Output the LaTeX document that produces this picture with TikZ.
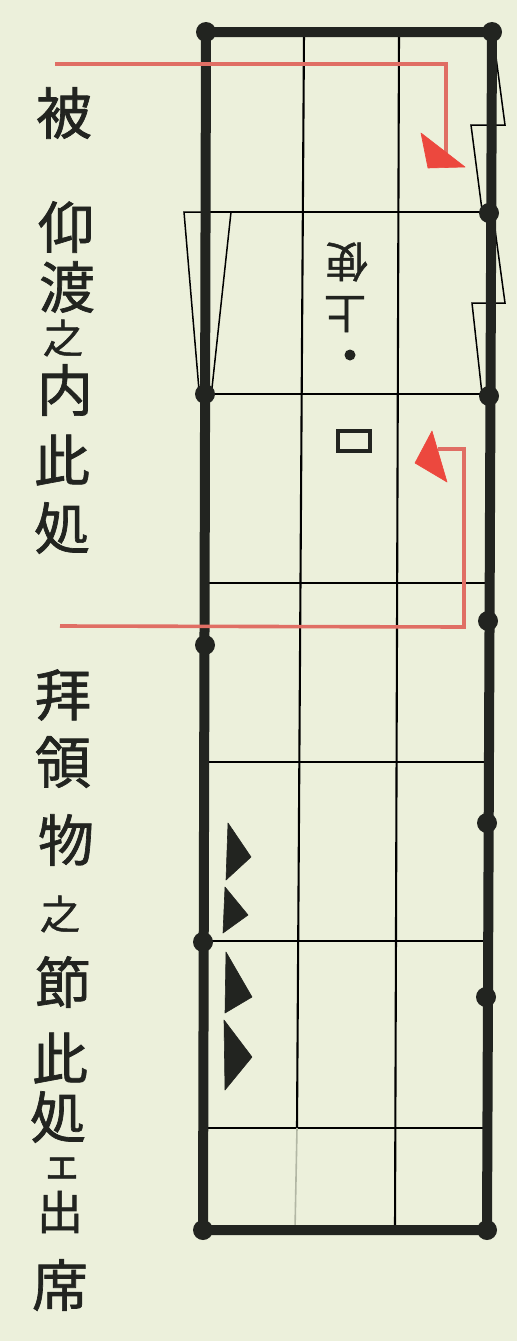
\documentclass[tikz,border=0pt]{standalone}
\usepackage{fontspec}
\newfontfamily\cjk[FakeBold=1.2]{Noto Sans CJK JP}
\definecolor{paper}{RGB}{236,240,219}
\definecolor{ink}{RGB}{34,36,32}
\definecolor{thin}{RGB}{72,76,62}
\definecolor{redline}{RGB}{224,110,100}
\definecolor{redfill}{RGB}{236,72,62}
\tikzset{
  wall/.style={ink, line width=10pt, line cap=round, line join=round},
  gridline/.style={thin, line width=2.1pt},
  faint/.style={thin!35!paper, line width=1.6pt},
  doorline/.style={thin, line width=1.5pt, line join=miter},
  post/.style={circle, fill=ink, inner sep=0pt, minimum size=20pt},
  redpath/.style={redline, line width=3.6pt, line join=miter},
  redtip/.style={fill=redfill, draw=redfill, line width=0.6pt, line join=round},
  blacktip/.style={fill=ink, draw=ink, line width=0.6pt, line join=round},
  bigch/.style={inner sep=0pt, font=\cjk\fontsize{56}{56}\selectfont, text=ink},
  midbig/.style={inner sep=0pt, font=\cjk\fontsize{46}{46}\selectfont, text=ink},
  smallch/.style={inner sep=0pt, font=\cjk\fontsize{40}{40}\selectfont, text=ink},
  midch/.style={inner sep=0pt, font=\cjk\fontsize{42}{42}\selectfont, text=ink, rotate=180},
}
\begin{document}
\begin{tikzpicture}[x=1pt, y=-1pt]
\fill[paper] (0,0) rectangle (517,1341);
\useasboundingbox (0,0) rectangle (517,1341);

% corners and wall points
\coordinate (TL) at (206,32);
\coordinate (TR) at (492,32);
\coordinate (BL) at (203,1230);
\coordinate (BR) at (487,1230);

% thin grid: horizontals
\foreach \y/\n in {212/h1,394/h2,583/h3,762/h4,941/h5,1128/h6}{
  \coordinate (\n L) at (207,\y);
  \coordinate (\n R) at (488,\y);
}
\draw[gridline] (h1L) -- (h1R);
\draw[gridline] (h2L) -- (h2R);
\draw[gridline] (h3L) -- (h3R);
\draw[gridline] (h4L) -- (h4R);
\draw[gridline] (h5L) -- (h5R);
\draw[gridline] (h6L) -- (h6R);
% thin grid: verticals
\coordinate (v1T) at (304,32);
\coordinate (v1M) at (297,1128);
\coordinate (v1B) at (295,1230);
\coordinate (v2T) at (399,32);
\coordinate (v2B) at (395,1230);
\draw[gridline] (v1T) -- (v1M);
\draw[faint] (v1M) -- (v1B);
\draw[gridline] (v2T) -- (v2B);

% left door leaf (tapered)
\coordinate (ldA) at (184,212);
\coordinate (ldB) at (231,212);
\coordinate (ldC) at (199,390);
\coordinate (ldD) at (212,388);
\draw[doorline] (ldC) -- (ldA) -- (ldB) -- (ldD);

% right door leaves
\coordinate (rdA1) at (494,42);
\coordinate (rdA2) at (505,125);
\coordinate (rdA3) at (471,125);
\coordinate (rdA4) at (482,210);
\draw[doorline] (rdA1) -- (rdA2) -- (rdA3) -- (rdA4);
\coordinate (rdB1) at (494,222);
\coordinate (rdB2) at (505,303);
\coordinate (rdB3) at (472,303);
\coordinate (rdB4) at (482,394);
\draw[doorline] (rdB1) -- (rdB2) -- (rdB3) -- (rdB4);

% outer frame
\draw[wall] (TL) -- (TR) -- (BR) -- (BL) -- cycle;

% posts
\node[post] (p1) at (TL) {};
\node[post] (p2) at (TR) {};
\node[post] (p3) at (489,213) {};
\node[post] (p4) at (205,394) {};
\node[post] (p5) at (489,396) {};
\node[post] (p6) at (488,621) {};
\node[post] (p7) at (205,645) {};
\node[post] (p8) at (487,823) {};
\node[post] (p9) at (203,942) {};
\node[post] (p10) at (486,997) {};
\node[post] (p11) at (BL) {};
\node[post] (p12) at (BR) {};

% red route 1
\coordinate (r1s) at (55,64);
\coordinate (r1c) at (446,64);
\coordinate (r1e) at (446,156);
\draw[redpath] (r1s) -- (r1c) -- (r1e);
\filldraw[redtip] (421,133) -- (428,168) -- (465,167) -- cycle;

% red route 2
\coordinate (r2s) at (60,626);
\coordinate (r2c) at (464,627);
\coordinate (r2d) at (464,449);
\coordinate (r2e) at (438,449);
\draw[redpath] (r2s) -- (r2c) -- (r2d) -- (r2e);
\filldraw[redtip] (432,431) -- (415,463) -- (447,482) -- cycle;

% black triangles
\filldraw[blacktip] (228,823) -- (251,857) -- (226,880) -- cycle;
\filldraw[blacktip] (225,887) -- (248,915) -- (223,933) -- cycle;
\filldraw[blacktip] (226,952) -- (252,997) -- (225,1013) -- cycle;
\filldraw[blacktip] (224,1020) -- (252,1057) -- (225,1090) -- cycle;

% upside-down label, dot and square
\node[midch] (m1) at (347,262) {使};
\node[midch] (m2) at (345,314) {上};
\node[circle, fill=ink, inner sep=0pt, minimum size=11pt] (mdot) at (350,355) {};
\node[draw=ink, line width=3.5pt, inner sep=0pt, minimum width=32pt, minimum height=20pt] (sq) at (354,441) {};

% left text
\node[bigch] (c1) at (64,113) {被};
\node[bigch] (c2) at (66,227) {仰};
\node[bigch] (c3) at (67,287) {渡};
\node[smallch] (c4) at (63,338) {之};
\node[bigch] (c5) at (65,390) {内};
\node[bigch] (c6) at (62,460) {此};
\node[bigch] (c7) at (62,528) {処};

\node[bigch] (d1) at (63,695) {拜};
\node[bigch] (d2) at (63,762) {領};
\node[bigch] (d3) at (66,840) {物};
\node[smallch] (d4) at (60,914) {之};
\node[bigch] (d5) at (63,982) {節};
\node[bigch] (d6) at (60,1058) {此};
\node[bigch] (d7) at (58,1117) {処};
\node[smallch] (d8) at (62,1168) {ェ};
\node[midbig] (d9) at (60,1212) {出};
\node[bigch] (d10) at (60,1285) {席};
\end{tikzpicture}
\end{document}
